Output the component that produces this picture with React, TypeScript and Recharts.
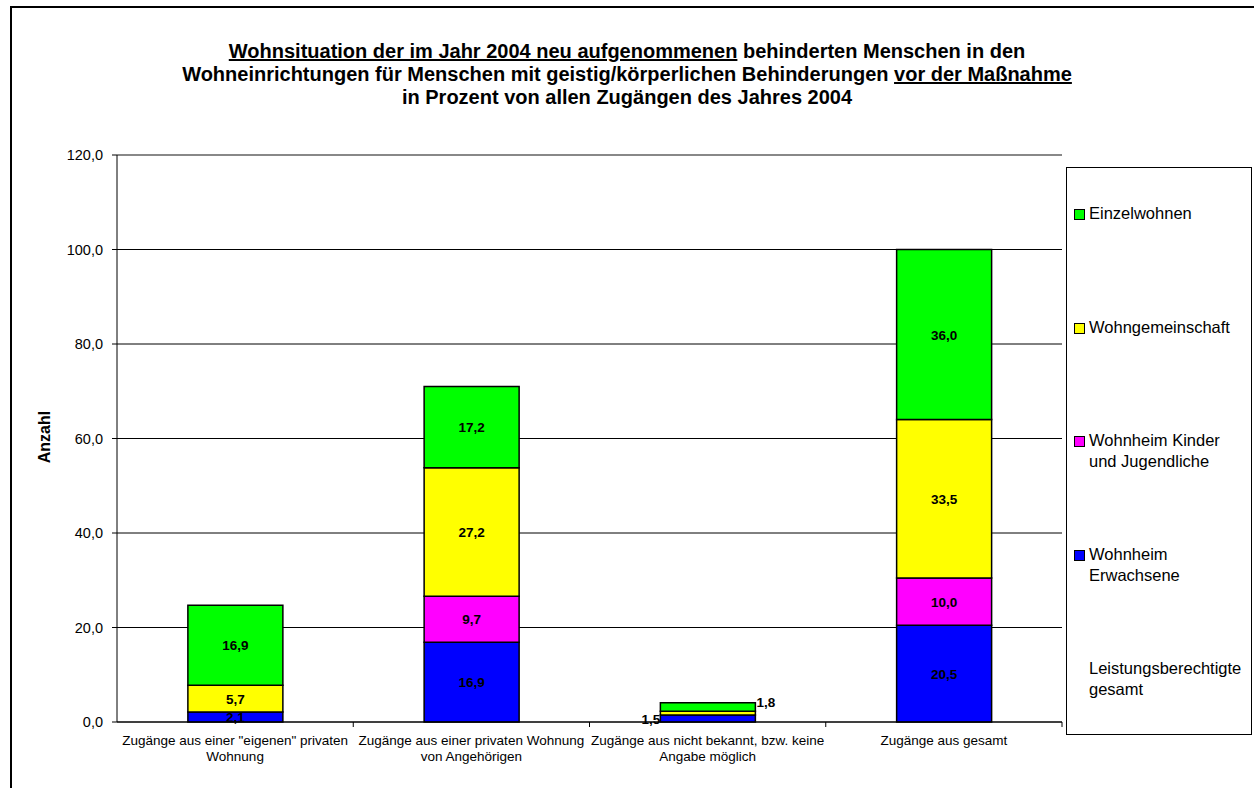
import { Bar, BarChart, CartesianGrid, LabelList, ReferenceLine, XAxis, YAxis } from "recharts";

const FONT = "Arial, 'Liberation Sans', sans-serif";

const CATEGORIES = [
  ["Zugänge aus einer \"eigenen\" privaten", "Wohnung"],
  ["Zugänge aus einer privaten Wohnung", "von Angehörigen"],
  ["Zugänge aus nicht bekannt, bzw. keine", "Angabe möglich"],
  ["Zugänge aus gesamt"],
];

const ERWACHSENE = [2.1, 16.9, 1.5, 20.5];
const KINDER = [0, 9.7, 0, 10.0];
const WG = [5.7, 27.2, 0.8, 33.5];
const EINZEL = [16.9, 17.2, 1.8, 36.0];

const Y_TICKS = [0, 20, 40, 60, 80, 100, 120];

const SERIES = [
  { key: "erw", name: "Wohnheim Erwachsene", color: "#0000ff", values: ERWACHSENE },
  { key: "kind", name: "Wohnheim Kinder und Jugendliche", color: "#ff00ff", values: KINDER },
  { key: "wg", name: "Wohngemeinschaft", color: "#ffff00", values: WG },
  { key: "einzel", name: "Einzelwohnen", color: "#00ff00", values: EINZEL },
];

// legend order as in the original (top to bottom)
const LEGEND = [
  { lines: ["Einzelwohnen"], color: "#00ff00" },
  { lines: ["Wohngemeinschaft"], color: "#ffff00" },
  { lines: ["Wohnheim Kinder", "und Jugendliche"], color: "#ff00ff" },
  { lines: ["Wohnheim", "Erwachsene"], color: "#0000ff" },
  { lines: ["Leistungsberechtigte", "gesamt"], color: null },
];

const data = CATEGORIES.map((lines, i) => {
  const row: Record<string, any> = { cat: i, lines };
  SERIES.forEach((s) => (row[s.key] = s.values[i]));
  return row;
});

const W = 1254;
const H = 788;
const MARGIN = { top: 155, right: 192, bottom: 26, left: 47 };
const PLOT_W = W - MARGIN.right - MARGIN.left - 70;

const fmt = (v: number) => v.toFixed(1).replace(".", ",");

function XTick(props: any) {
  const { x, y, payload } = props;
  const lines: string[] = CATEGORIES[payload.value];
  const half = PLOT_W / CATEGORIES.length / 2;
  return (
    <g>
      <line x1={x + half} x2={x + half} y1={y - 8} y2={y - 3} stroke="#000" />
      <text x={x} y={y + 15} textAnchor="middle" fontSize={13.5} fontFamily={FONT} fill="#000">
        {lines.map((l, i) => (
          <tspan key={i} x={x} dy={i === 0 ? 0 : 16}>
            {l}
          </tspan>
        ))}
      </text>
    </g>
  );
}

function makeLabel(seriesKey: string) {
  return (props: any) => {
    const { x, y, width, height, value, index } = props;
    if (!value) return null;
    const style = { fontSize: 13.5, fontWeight: "bold" as const, fontFamily: FONT, fill: "#000" };
    if (index === 2) {
      // tiny segments: labels sit outside the bar
      if (seriesKey === "erw")
        return (
          <text x={x} y={y + height + 2} textAnchor="end" {...style}>
            {fmt(value)}
          </text>
        );
      if (seriesKey === "einzel")
        return (
          <text x={x + width + 1} y={y + 4} textAnchor="start" {...style}>
            {fmt(value)}
          </text>
        );
      return null;
    }
    return (
      <text x={x + width / 2} y={y + height / 2 + 5} textAnchor="middle" {...style}>
        {fmt(value)}
      </text>
    );
  };
}

export default function App() {
  return (
    <div
      style={{
        position: "fixed",
        left: 0,
        top: 0,
        width: W,
        height: H,
        background: "#fff",
        overflow: "hidden",
        fontFamily: FONT,
      }}
    >
      <div
        style={{
          position: "absolute",
          left: 10,
          top: 6,
          width: 1300,
          height: 840,
          border: "2px solid #000",
        }}
      />
      <div
        style={{
          position: "absolute",
          left: 0,
          top: 40,
          width: 1254,
          textAlign: "center",
          fontWeight: "bold",
          fontSize: 20,
          lineHeight: "23px",
          color: "#000",
        }}
      >
        <div>
          <u>Wohnsituation der im Jahr 2004 neu aufgenommenen</u> behinderten Menschen in den
        </div>
        <div>
          Wohneinrichtungen für Menschen mit geistig/körperlichen Behinderungen <u>vor der Maßnahme </u>
        </div>
        <div>in Prozent von allen Zugängen des Jahres 2004</div>
      </div>

      <div style={{ position: "absolute", left: 0, top: 0 }}>
        <BarChart width={W} height={H} data={data} margin={MARGIN} barCategoryGap="30%">
          <CartesianGrid vertical={false} stroke="#000" strokeWidth={1} />
          <ReferenceLine y={120} stroke="#888" strokeWidth={2} />
          <XAxis
            dataKey="cat"
            tick={<XTick />}
            tickLine={false}
            axisLine={{ stroke: "#000" }}
            interval={0}
            height={40}
          />
          <YAxis
            domain={[0, 120]}
            ticks={Y_TICKS}
            tickFormatter={fmt}
            tick={{ fontSize: 14.5, fill: "#000", fontFamily: FONT }}
            tickSize={5}
            tickMargin={9}
            stroke="#000"
            width={70}
            interval={0}
          />
          <YAxis
            yAxisId="r"
            orientation="right"
            domain={[0, 120]}
            tick={false}
            tickLine={false}
            axisLine={{ stroke: "#888", strokeWidth: 2 }}
            width={0}
          />
          {SERIES.map((s) => (
            <Bar
              key={s.key}
              dataKey={s.key}
              name={s.name}
              stackId="a"
              fill={s.color}
              stroke="#000"
              strokeWidth={1.5}
              isAnimationActive={false}
            >
              <LabelList dataKey={s.key} content={makeLabel(s.key)} />
            </Bar>
          ))}
        </BarChart>
      </div>

      <div
        style={{
          position: "absolute",
          left: 45,
          top: 437,
          transform: "translate(-50%, -50%) rotate(-90deg)",
          fontWeight: "bold",
          fontSize: 16,
        }}
      >
        Anzahl
      </div>

      <div
        style={{
          position: "absolute",
          left: 1066,
          top: 167,
          width: 186,
          height: 568,
          border: "1px solid #000",
          boxSizing: "border-box",
          fontSize: 16.5,
        }}
      >
        {LEGEND.map((item, i) => (
          <div
            key={i}
            style={{
              position: "absolute",
              left: 7,
              top: 35 + i * 113.7,
              display: "flex",
              alignItems: "flex-start",
              lineHeight: "21px",
            }}
          >
            <span
              style={{
                display: "inline-block",
                width: 9,
                height: 9,
                marginTop: 6,
                marginRight: 4,
                flex: "none",
                background: item.color ?? "transparent",
                border: item.color ? "1px solid #000" : "1px solid transparent",
              }}
            />
            <span>
              {item.lines.map((l, j) => (
                <div key={j}>{l}</div>
              ))}
            </span>
          </div>
        ))}
      </div>
    </div>
  );
}
